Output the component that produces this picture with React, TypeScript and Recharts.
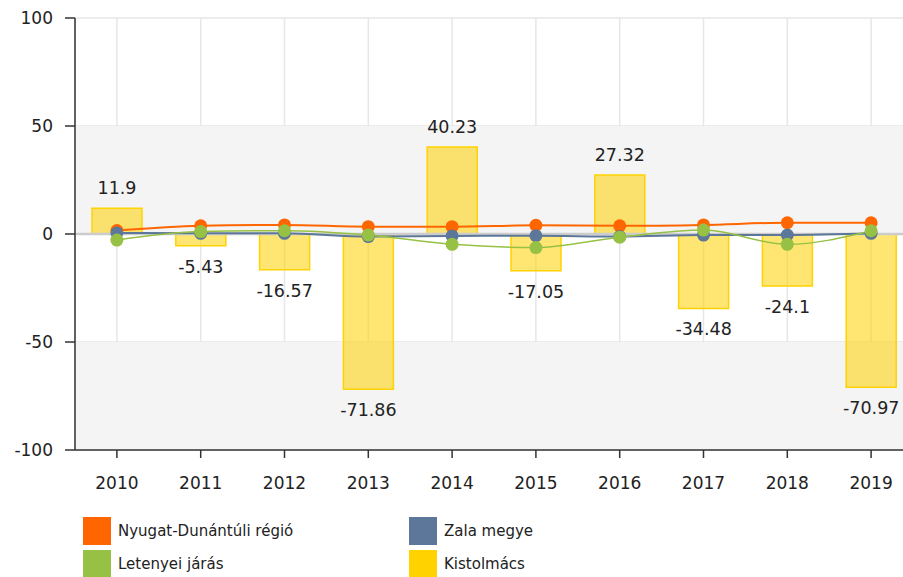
import React from 'react';
import {
  ComposedChart,
  Bar,
  Line,
  XAxis,
  YAxis,
  CartesianGrid,
  ReferenceArea,
  ReferenceLine,
  LabelList,
} from 'recharts';

const years = ['2010', '2011', '2012', '2013', '2014', '2015', '2016', '2017', '2018', '2019'];
const nyugatDunantuli = [1.6, 3.8, 4.2, 3.4, 3.4, 4.0, 3.8, 4.2, 5.2, 5.2];
const zalaMegye = [0.5, 0.3, 0.3, -1.2, -0.9, -0.8, -1.2, -0.5, -0.5, 0.3];
const letenyeiJaras = [-2.8, 1.1, 1.5, -0.5, -4.8, -6.3, -1.5, 1.8, -4.8, 1.5];
const kistolmacs = [11.9, -5.43, -16.57, -71.86, 40.23, -17.05, 27.32, -34.48, -24.1, -70.97];
const yTicks = [-100, -50, 0, 50, 100];

const seriesNames = {
  nyugat: 'Nyugat-Dunántúli régió',
  zala: 'Zala megye',
  letenyei: 'Letenyei járás',
  kistolmacs: 'Kistolmács',
};

const colors = {
  nyugat: '#ff6600',
  zala: '#5c7799',
  letenyei: '#97c144',
  kistolmacs: '#ffd200',
};

const data = years.map((y, i) => ({
  year: y,
  nyugat: nyugatDunantuli[i],
  zala: zalaMegye[i],
  letenyei: letenyeiJaras[i],
  kistolmacs: kistolmacs[i],
}));

const FONT = '"DejaVu Sans", Verdana, sans-serif';

const BarLabel = (props: any) => {
  const { x, y, width, height, value } = props;
  const top = Math.min(y, y + height);
  const bottom = Math.max(y, y + height);
  const cx = x + width / 2;
  const cy = value >= 0 ? top - 20 : bottom + 21;
  return (
    <text
      x={cx}
      y={cy}
      textAnchor="middle"
      dominantBaseline="central"
      fontSize={17.5}
      fontFamily={FONT}
      fill="#222"
    >
      {String(value)}
    </text>
  );
};

const legendItems = [
  { key: 'nyugat', left: 83, top: 517 },
  { key: 'zala', left: 409, top: 517 },
  { key: 'letenyei', left: 83, top: 550 },
  { key: 'kistolmacs', left: 409, top: 550 },
] as const;

export default function App() {
  return (
    <div
      style={{
        position: 'fixed',
        left: 0,
        top: 0,
        width: 903,
        height: 577,
        overflow: 'hidden',
        background: '#fff',
        fontFamily: FONT,
      }}
    >
      <ComposedChart
        width={913}
        height={577}
        data={data}
        margin={{ top: 18, right: 0, left: 0, bottom: 87 }}
      >
        <ReferenceArea y1={0} y2={50} fill="#f4f4f4" fillOpacity={1} stroke="none" ifOverflow="visible" />
        <ReferenceArea y1={-100} y2={-50} fill="#f4f4f4" fillOpacity={1} stroke="none" ifOverflow="visible" />
        <CartesianGrid stroke="#e6e6e6" strokeWidth={1.5} />
        <XAxis
          dataKey="year"
          height={40}
          tickSize={8}
          tickMargin={19}
          axisLine={{ stroke: '#333', strokeWidth: 1.5 }}
          tickLine={{ stroke: '#333', strokeWidth: 1.5 }}
          tick={{ fill: '#222', fontSize: 17, fontFamily: FONT }}
          interval={0}
        />
        <YAxis
          width={75}
          domain={[-100, 100]}
          ticks={yTicks}
          tickSize={10}
          tickMargin={12}
          axisLine={{ stroke: '#333', strokeWidth: 1.5 }}
          tickLine={{ stroke: '#333', strokeWidth: 1.5 }}
          tick={{ fill: '#222', fontSize: 17, fontFamily: FONT }}
        />
        <ReferenceLine y={0} stroke="#cccccc" strokeWidth={2.5} />
        <Bar
          dataKey="kistolmacs"
          name={seriesNames.kistolmacs}
          barSize={50}
          fill={colors.kistolmacs}
          fillOpacity={0.55}
          stroke={colors.kistolmacs}
          strokeWidth={1.5}
          isAnimationActive={false}
        >
          <LabelList dataKey="kistolmacs" content={BarLabel} />
        </Bar>
        <Line
          type="monotone"
          dataKey="nyugat"
          name={seriesNames.nyugat}
          stroke={colors.nyugat}
          strokeWidth={2}
          dot={{ r: 6.5, fill: colors.nyugat, stroke: 'none' }}
          activeDot={false}
          isAnimationActive={false}
        />
        <Line
          type="monotone"
          dataKey="zala"
          name={seriesNames.zala}
          stroke={colors.zala}
          strokeWidth={2}
          dot={{ r: 6.5, fill: colors.zala, stroke: 'none' }}
          activeDot={false}
          isAnimationActive={false}
        />
        <Line
          type="monotone"
          dataKey="letenyei"
          name={seriesNames.letenyei}
          stroke={colors.letenyei}
          strokeWidth={1.5}
          dot={{ r: 6.5, fill: colors.letenyei, stroke: 'none' }}
          activeDot={false}
          isAnimationActive={false}
        />
      </ComposedChart>
      {legendItems.map((it) => (
        <div
          key={it.key}
          style={{
            position: 'absolute',
            left: it.left,
            top: it.top,
            display: 'flex',
            alignItems: 'center',
            height: 28,
          }}
        >
          <div style={{ width: 28, height: 28, background: colors[it.key] }} />
          <span style={{ marginLeft: 7, fontSize: 15, color: '#222', fontFamily: FONT }}>
            {seriesNames[it.key]}
          </span>
        </div>
      ))}
    </div>
  );
}
